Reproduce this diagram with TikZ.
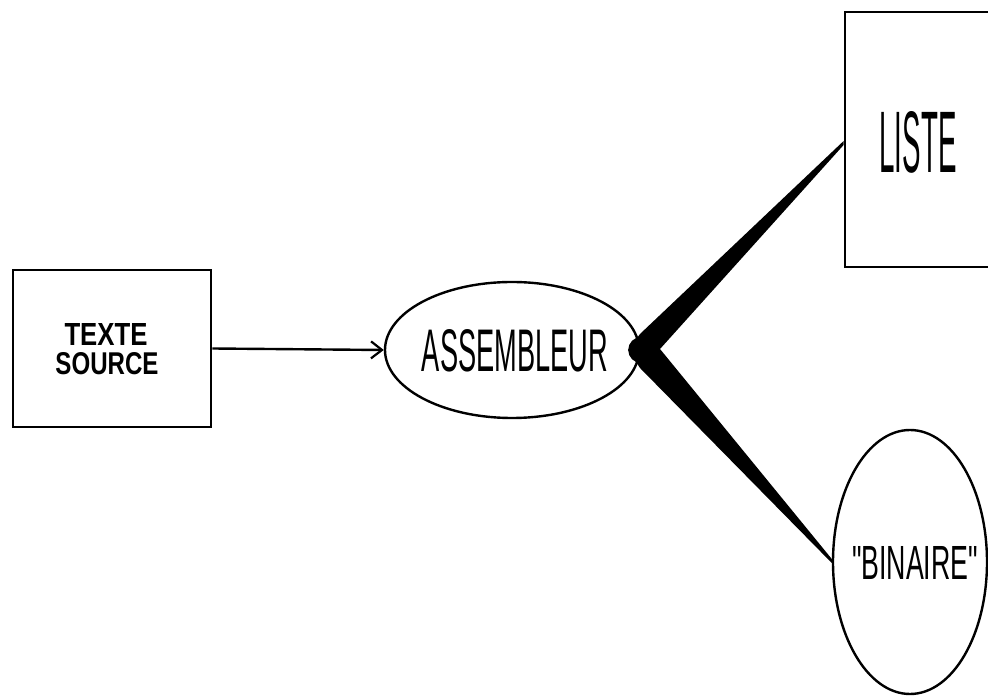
\documentclass[tikz,border=0pt]{standalone}
\usepackage{fontspec}
\setmainfont{Liberation Sans}
\newfontfamily\qfont{Liberation Sans}[Ligatures=TeXOff]
\usepackage{graphicx}
\usetikzlibrary{shapes.geometric,arrows.meta,calc}
\newcommand{\fitto}[3]{\resizebox{#1}{#2}{#3}}
\begin{document}
\begin{tikzpicture}[x=1pt,y=1pt,
  box/.style={draw, line width=2.8pt, rectangle, inner sep=0pt},
  oval/.style={draw, line width=2.4pt, ellipse, inner sep=0pt},
  flow/.style={line width=2.4pt, -{Straight Barb[length=11pt,width=17pt,line width=2.2pt]}},
  wedge/.style={fill=black},
  lbl/.style={inner sep=0pt}]
\useasboundingbox (0,0) rectangle (988,696);
\begin{scope}
\clip (0,0) rectangle (988,696);
\node[box, minimum width=198pt, minimum height=157pt] (src) at (112,347.5) {};
\node[lbl, font=\bfseries] (srct1) at (106,361.5) {\fitto{83pt}{22pt}{TEXTE}};
\node[lbl, font=\bfseries] (srct2) at (107,332.5) {\fitto{103pt}{22pt}{SOURCE}};
\node[oval, minimum width=254pt, minimum height=136pt] (asm) at (512,346) {};
\node[lbl] (asmt) at (515,345) {\fitto{186pt}{42pt}{ASSEMBLEUR}};
\node[box, minimum width=160pt, minimum height=255pt] (lst) at (925,556.5) {};
\node[lbl] (lsttxt) at (918,554) {\fitto{77pt}{61pt}{LISTE}};
\node[oval, minimum width=154pt, minimum height=264pt] (bin) at (910,134) {};
\node[lbl] (bintxt) at (915,133) {\qfont\fitto{126pt}{33pt}{"BINAIRE"}};
\draw[flow] (src.east) -- (asm.west);
\fill[wedge] ($(lst.west)+(0,-1.5)$) -- (640,362) -- (628,346) -- (640,328)
  -- ($(bin.west)+(0,-1)$) -- ($(bin.west)+(0,3)$) -- (660,347)
  -- ($(lst.west)+(0,-5.5)$) -- cycle;
\fill[wedge] (asm.east) ++(1,0) circle (13);
\end{scope}
\end{tikzpicture}
\end{document}
